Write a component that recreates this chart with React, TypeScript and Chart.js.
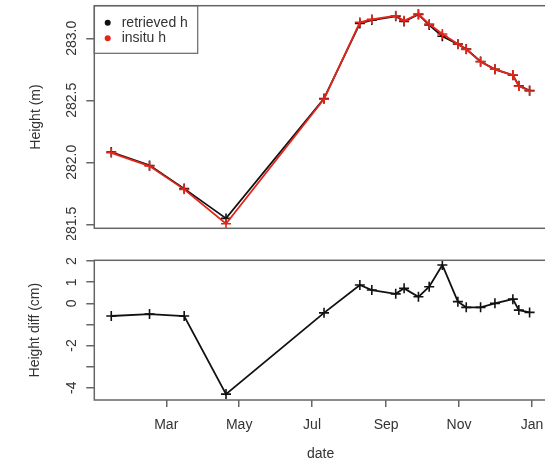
import React, { useEffect, useRef } from 'react';
import { Chart, registerables } from 'chart.js';

Chart.register(...registerables);

// day of year (Jan 1 = 0)
const dates = [13, 45, 74, 109, 191, 221, 231, 251, 258, 270, 279, 290, 303, 310, 322, 334, 349, 354, 363];
const retrievedH = [282.083, 281.975, 281.788, 281.548, 282.515, 283.12, 283.147, 283.178, 283.135, 283.193, 283.107, 283.017, 282.953, 282.913, 282.813, 282.75, 282.702, 282.618, 282.579];
const insituH = [282.077, 281.97, 281.782, 281.505, 282.51, 283.129, 283.153, 283.182, 283.142, 283.196, 283.115, 283.035, 282.954, 282.911, 282.811, 282.75, 282.704, 282.615, 282.575];
const heightDiff = [-0.6, -0.51, -0.6, -4.3, -0.45, 0.87, 0.63, 0.45, 0.71, 0.31, 0.79, 1.82, 0.08, -0.19, -0.19, 0.0, 0.2, -0.32, -0.43];

const monthTicks = [59, 120, 181, 243, 304, 365];
const monthLabels = ['Mar', 'May', 'Jul', 'Sep', 'Nov', 'Jan'];
const heightTicks = [281.5, 282.0, 282.5, 283.0];
const diffTicks = [-4, -3, -2, -1, 0, 1, 2];
const diffLabeled = [2, 1, 0, -2, -4];

const FONT = "'Liberation Sans', Arial, sans-serif";
const TXT = '#333';
const AXIS = '#666';
const RED = '#e2261b';
const BLACK = '#111';

const X_MIN = -1.2;
const X_MAX = 377.4;

const boxPlugin = {
  id: 'rbox',
  afterDraw(chart: any) {
    const { ctx, chartArea: a } = chart;
    ctx.save();
    ctx.strokeStyle = AXIS;
    ctx.lineWidth = 1.5;
    ctx.strokeRect(a.left, a.top, a.right - a.left, a.bottom - a.top);
    ctx.restore();
  },
};

const legendPlugin = {
  id: 'rlegend',
  afterDraw(chart: any) {
    const { ctx, chartArea: a } = chart;
    const x0 = a.left;
    const y0 = a.top;
    ctx.save();
    ctx.strokeStyle = AXIS;
    ctx.lineWidth = 1.2;
    ctx.strokeRect(x0, y0, 103.4, 47.6);
    const items = [chart.data.datasets[0], chart.data.datasets[1]];
    items.forEach((ds: any, i: number) => {
      const y = y0 + 17 + i * 15.6;
      ctx.fillStyle = ds.borderColor;
      ctx.beginPath();
      ctx.arc(x0 + 13.4, y, 3, 0, Math.PI * 2);
      ctx.fill();
      ctx.fillStyle = TXT;
      ctx.font = `14px ${FONT}`;
      ctx.textBaseline = 'middle';
      ctx.textAlign = 'left';
      ctx.fillText(ds.label, x0 + 27.4, y);
    });
    ctx.restore();
  },
};

const pts = (ys: number[]) => dates.map((d, i) => ({ x: d, y: ys[i] }));

const lineDs = (label: string, ys: number[], color: string, order: number) => ({
  label,
  data: pts(ys),
  borderColor: color,
  backgroundColor: color,
  borderWidth: 1.8,
  tension: 0,
  pointStyle: 'cross',
  pointRadius: 5,
  pointBorderWidth: 1.6,
  pointBorderColor: color,
  order,
});

export default function App() {
  const topRef = useRef<HTMLCanvasElement>(null);
  const botRef = useRef<HTMLCanvasElement>(null);

  useEffect(() => {
    const tickFont = { family: FONT, size: 14 };
    const titleFont = { family: FONT, size: 14, lineHeight: 1 };

    const top = new Chart(topRef.current as HTMLCanvasElement, {
      type: 'line',
      data: {
        datasets: [
          lineDs('retrieved h', retrievedH, BLACK, 1),
          lineDs('insitu h', insituH, RED, 0),
        ],
      },
      options: {
        responsive: false,
        animation: false,
        devicePixelRatio: 1,
        layout: { autoPadding: false, padding: { left: 0, top: 5.7, right: 1.2, bottom: 11.7 } },
        plugins: { legend: { display: false }, tooltip: { enabled: false } },
        scales: {
          x: { type: 'linear', min: X_MIN, max: X_MAX, display: false },
          y: {
            type: 'linear',
            min: 281.468,
            max: 283.263,
            afterBuildTicks: (s: any) => {
              s.ticks = heightTicks.map((v) => ({ value: v }));
            },
            afterFit: (s: any) => {
              s.width = 94.3;
            },
            ticks: {
              autoSkip: false,
              minRotation: 90,
              maxRotation: 90,
              crossAlign: 'center',
              padding: -2.9,
              color: TXT,
              font: tickFont,
              callback: (v: any) => Number(v).toFixed(1),
            },
            grid: { drawOnChartArea: false, tickLength: 8, color: AXIS, lineWidth: 1.5 },
            border: { display: false },
            title: {
              display: true,
              text: 'Height (m)',
              color: TXT,
              font: titleFont,
              padding: { top: 29, bottom: 0 },
            },
          },
        },
      },
      plugins: [boxPlugin, legendPlugin],
    } as any);

    const bot = new Chart(botRef.current as HTMLCanvasElement, {
      type: 'line',
      data: {
        datasets: [lineDs('height diff', heightDiff, BLACK, 0)],
      },
      options: {
        responsive: false,
        animation: false,
        devicePixelRatio: 1,
        layout: { autoPadding: false, padding: { left: 0, top: 20.3, right: 1.2, bottom: 0 } },
        plugins: { legend: { display: false }, tooltip: { enabled: false } },
        scales: {
          x: {
            type: 'linear',
            min: X_MIN,
            max: X_MAX,
            afterBuildTicks: (s: any) => {
              s.ticks = monthTicks.map((v) => ({ value: v }));
            },
            afterFit: (s: any) => {
              s.height = 60;
              s.paddingLeft = 0;
              s.paddingRight = 0;
            },
            ticks: {
              autoSkip: false,
              minRotation: 0,
              maxRotation: 0,
              padding: 10,
              color: TXT,
              font: tickFont,
              callback: (v: any) => {
                const i = monthTicks.indexOf(Number(v));
                return i >= 0 ? monthLabels[i] : '';
              },
            },
            grid: { drawOnChartArea: false, tickLength: 7, color: AXIS, lineWidth: 1.5 },
            border: { display: false },
            title: {
              display: true,
              text: 'date',
              color: TXT,
              font: titleFont,
              padding: { top: 0, bottom: -1 },
            },
          },
          y: {
            type: 'linear',
            min: -4.58,
            max: 2.04,
            afterBuildTicks: (s: any) => {
              s.ticks = diffTicks.map((v) => ({ value: v }));
            },
            afterFit: (s: any) => {
              s.width = 94.3;
            },
            ticks: {
              autoSkip: false,
              minRotation: 90,
              maxRotation: 90,
              crossAlign: 'center',
              padding: 8.4,
              color: TXT,
              font: tickFont,
              callback: (v: any) => (diffLabeled.includes(Number(v)) ? String(v) : ''),
            },
            grid: { drawOnChartArea: false, tickLength: 8, color: AXIS, lineWidth: 1.5 },
            border: { display: false },
            title: {
              display: true,
              text: 'Height diff (cm)',
              color: TXT,
              font: titleFont,
              padding: { top: 28, bottom: 0 },
            },
          },
        },
      },
      plugins: [boxPlugin],
    } as any);

    return () => {
      top.destroy();
      bot.destroy();
    };
  }, []);

  return (
    <div
      style={{
        position: 'fixed',
        left: 0,
        top: 0,
        width: 545,
        height: 460,
        overflow: 'hidden',
        background: '#fff',
      }}
    >
      <canvas
        ref={topRef}
        width={548}
        height={240}
        style={{ position: 'absolute', left: 0, top: 0, width: 548, height: 240 }}
      />
      <canvas
        ref={botRef}
        width={548}
        height={220}
        style={{ position: 'absolute', left: 0, top: 240, width: 548, height: 220 }}
      />
    </div>
  );
}
